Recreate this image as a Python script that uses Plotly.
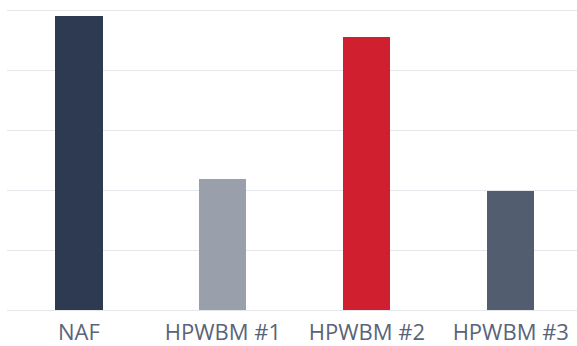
import plotly.graph_objects as go

categories = ["NAF", "HPWBM #1", "HPWBM #2", "HPWBM #3"]
values = [98, 43.7, 91, 39.7]
colors = ["#2e3a52", "#99a0ab", "#d0202f", "#525e70"]

fig = go.Figure(go.Bar(
    x=categories, y=values, marker_color=colors, marker_line_width=0,
    width=0.327, hoverinfo="skip",
))

fig.update_layout(
    width=577, height=346,
    margin=dict(l=7, r=0, t=7, b=33),
    paper_bgcolor="white", plot_bgcolor="white",
    showlegend=False,
    font=dict(family="Open Sans", color="#5a6478", size=22),
    bargap=0,
)
fig.update_xaxes(range=[-0.5, 3.46], showgrid=False, zeroline=False, showline=False,
                 automargin=False, ticks="", ticklabelstandoff=4,
                 tickfont=dict(size=22, color="#5a6478"))
fig.update_yaxes(range=[-1, 101], dtick=20, showticklabels=False, showgrid=True,
                 automargin=False, gridcolor="#e4e7ec", gridwidth=1,
                 zeroline=True, zerolinecolor="#e4e7ec", zerolinewidth=1, showline=False)

fig.write_html("out.html")
